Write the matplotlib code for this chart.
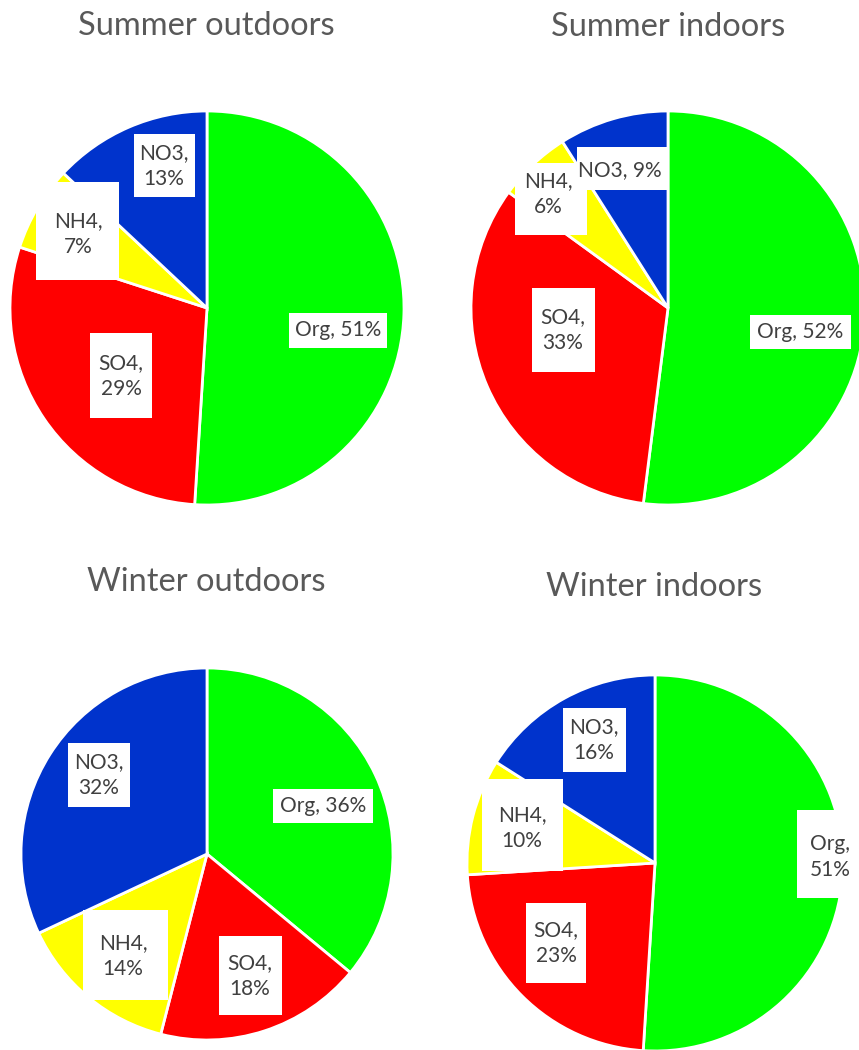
import matplotlib
matplotlib.use("Agg")
import matplotlib.pyplot as plt
from matplotlib.patches import Rectangle

W, H = 859, 1050

categories = ["Org", "SO4", "NH4", "NO3"]
colors = ["#00FF00", "#FF0000", "#FFFF00", "#0033CC"]

titles = ["Summer outdoors", "Summer indoors", "Winter outdoors", "Winter indoors"]
summer_out = [51, 29, 7, 13]
summer_in = [52, 33, 6, 9]
winter_out = [36, 18, 14, 32]
winter_in = [51, 23, 10, 16]
values = [summer_out, summer_in, winter_out, winter_in]

# layout in pixels (from top-left): pie centre, radius, title centre
centres = [(207, 308), (668, 308), (207, 854), (655, 863)]
radii = [197, 197, 186, 188]
title_xy = [(206, 26), (668, 27), (206, 582), (654, 587)]

# label boxes: centre x, centre y, width, height (pixels)
label_box = [
    [(338, 330, 98, 35), (121, 375, 62, 85), (77, 231, 83, 98), (164, 165, 61, 63)],
    [(800, 332, 101, 34), (563, 330, 63, 84), (551, 199, 72, 72), (622, 168, 90, 43)],
    [(323, 806, 100, 34), (250, 975, 63, 79), (125, 955, 85, 90), (99, 775, 62, 64)],
    [(828, 854, 62, 88), (556, 943, 60, 80), (522, 825, 81, 92), (594, 740, 63, 64)],
]
# text centres
label_xy = [
    [(338, 330), (121, 376), (78, 234), (164, 166)],
    [(800, 332), (563, 330), (548, 194), (620, 170)],
    [(323, 806), (250, 976), (123, 956), (99, 775)],
    [(830, 857), (556, 943), (522, 828), (594, 740)],
]
# one line or two
label_wrap = [
    [False, True, True, True],
    [False, True, True, False],
    [False, True, True, True],
    [True, True, True, True],
]

font = "Lato"

fig = plt.figure(figsize=(W / 100, H / 100), dpi=100)
ax = fig.add_axes([0, 0, 1, 1])
ax.set_xlim(0, W)
ax.set_ylim(0, H)
ax.set_aspect("equal")
ax.axis("off")

for k in range(4):
    cx, cy = centres[k]
    ax.pie(values[k], colors=colors, startangle=90, counterclock=False,
           center=(cx, H - cy), radius=radii[k],
           wedgeprops=dict(edgecolor="white", linewidth=2))
    tx, ty = title_xy[k]
    ax.text(tx, H - ty, titles[k], ha="center", va="center",
            fontsize=23.5, color="#595959", family=font)
    # NH4 first so the others sit on top of it
    z = 5
    for i in [2, 0, 1, 3]:
        bx, by, bw, bh = label_box[k][i]
        ax.add_patch(Rectangle((bx - bw / 2, H - by - bh / 2), bw, bh,
                               facecolor="white", edgecolor="none", zorder=z))
        sep = "\n" if label_wrap[k][i] else " "
        txt = categories[i] + "," + sep + str(values[k][i]) + "%"
        lx, ly = label_xy[k][i]
        ax.text(lx, H - ly, txt, ha="center", va="center", fontsize=15,
                color="#404040", family=font, linespacing=1.35, zorder=z + 0.5)
        z += 1

ax.set_xlim(0, W)
ax.set_ylim(0, H)
fig.savefig("out.png", dpi=100)
